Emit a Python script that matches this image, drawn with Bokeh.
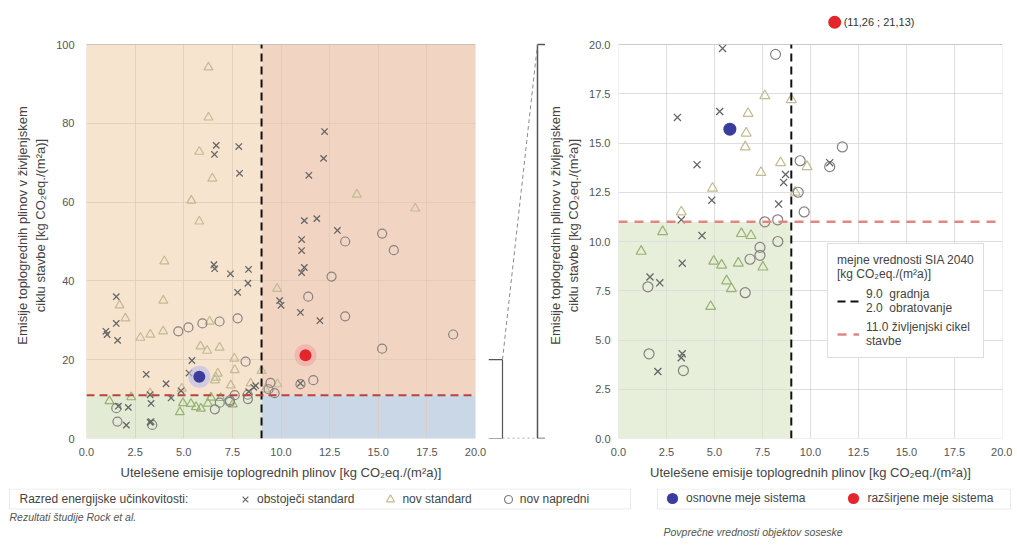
import numpy as np
from bokeh.plotting import figure
from bokeh.layouts import row, column
from bokeh.models import (BoxAnnotation, Span, Legend, LegendItem, FixedTicker,
                          NumeralTickFormatter, Range1d, ColumnDataSource)
from bokeh.core.properties import value
from bokeh.embed import file_html
from bokeh.resources import INLINE

FONT = "Liberation Sans"

# ---------------- data (Rock et al.) ----------------
# obstoječi standard (x)
existing_x = [6.67, 6.58, 7.83, 7.87, 12.24, 12.19, 11.43, 11.20, 11.84, 12.90, 11.06, 11.06, 11.20, 11.06,
              9.93, 10.00, 11.00, 12.00, 6.59, 6.55, 7.40, 8.33, 8.30, 7.77, 1.53, 1.53, 1.06, 1.00, 1.60,
              5.42, 3.07, 5.27, 4.09, 4.86, 3.27, 4.35, 11.00, 8.70, 8.60, 8.34, 3.32, 1.64, 2.15, 3.32, 3.27, 2.05]
existing_y = [74.4, 72.1, 74.1, 67.3, 77.9, 71.1, 66.8, 55.3, 55.8, 52.8, 50.5, 47.7, 43.4, 42.1,
              35.0, 33.8, 32.0, 29.9, 43.1, 44.1, 41.8, 42.9, 39.4, 37.1, 36.0, 29.2, 26.4, 27.2, 24.9,
              19.8, 16.3, 16.6, 13.9, 12.1, 11.1, 10.3, 14.0, 13.4, 13.0, 11.9, 8.9, 8.2, 7.9, 4.3, 4.1, 3.4]
# nov standard (triangle)
standard_x = [6.27, 6.27, 5.80, 6.47, 5.39, 5.80, 13.90, 16.90, 9.80, 4.00, 3.95, 1.70, 2.00, 2.77, 3.28,
              3.94, 5.86, 6.20, 6.84, 6.33, 7.60,
              6.75, 6.65, 6.60, 7.62, 9.00, 7.42, 4.90, 3.27, 2.30, 6.40, 6.90, 8.44, 9.82, 9.20, 1.18,
              4.96, 5.37, 6.24, 5.63, 5.88, 4.80, 7.52]
standard_y = [94.2, 81.5, 72.8, 66.0, 60.4, 55.1, 61.9, 58.4, 38.0, 45.0, 35.0, 33.8, 30.5, 25.6, 26.4,
              27.2, 23.4, 22.3, 23.1, 29.7, 20.3,
              16.5, 15.5, 14.8, 17.4, 17.2, 13.5, 12.7, 11.5, 10.5, 10.4, 10.3, 14.0, 13.8, 12.5, 9.5,
              9.0, 8.8, 8.9, 8.0, 7.6, 6.7, 8.7]
# nov napredni (circle)
advanced_x = [13.30, 15.20, 15.80, 12.60, 11.40, 13.30, 18.85, 15.20, 4.72, 5.24, 5.96, 6.84, 7.77,
              8.18, 11.66, 11.00, 9.46, 9.36, 9.67, 8.29, 7.62, 8.30, 1.53, 6.85, 7.37, 7.37, 6.60, 1.59, 3.38]
advanced_y = [50.0, 52.0, 47.8, 41.1, 36.0, 31.0, 26.4, 22.8, 27.2, 28.2, 29.2, 29.7, 30.5,
              19.5, 14.8, 13.8, 14.1, 12.5, 11.5, 11.1, 11.0, 10.0, 7.7, 9.1, 9.3, 9.7, 7.4, 4.3, 3.45]

# povprečne vrednosti objektov soseske
basic_x, basic_y = [5.80], [15.7]          # osnovne meje sistema
extended_x, extended_y = [11.26], [21.13]  # razširjene meje sistema
extended_label = ["(11,26 ; 21,13)"]

# mejne vrednosti SIA 2040
LIM_EMB = 9.0    # gradnja
LIM_OP = 2.0     # obratovanje
LIM_LC = 11.0    # življenjski cikel stavbe

X_MAX = 20.0
Y_MAX_LEFT = 100.0
ZOOM_MAX = 20.0

x_ticks = [0, 2.5, 5, 7.5, 10, 12.5, 15, 17.5, 20]
y_ticks_left = [0, 20, 40, 60, 80, 100]
y_ticks_right = [0, 2.5, 5, 7.5, 10, 12.5, 15, 17.5, 20]

XLAB = "Utelešene emisije toplogrednih plinov [kg CO\u2082eq./(m\u00b2a)]"
YLAB = "Emisije toplogrednih plinov v življenjskem\nciklu stavbe [kg CO\u2082eq./(m\u00b2a)]"

C_CROSS = "#666666"
C_TRI = "#c2bb93"
C_TRI_G = "#98b271"
C_CIRC = "#878280"
C_BLUE = "#3a3d9c"
C_RED = "#e3262b"

# frame geometry (all plots in the row share borders)
FRAME_H = 394          # pixels for the nominal y extent
EXTRA = 32             # extra headroom above the nominal extent (for the outlier label)
BORDER_TOP = 12
BORDER_BOTTOM = 50
ROW_H = BORDER_TOP + FRAME_H + EXTRA + BORDER_BOTTOM
HEAD = (FRAME_H + EXTRA) / FRAME_H
Y_TOP_L = Y_MAX_LEFT * HEAD
Y_TOP_R = ZOOM_MAX * HEAD


def tri_colors(xs, ys):
    return [C_TRI_G if (x < LIM_EMB and y < LIM_LC) else C_TRI for x, y in zip(xs, ys)]


def style_axes(p, ylab_standoff=12):
    for ax in p.axis:
        ax.axis_line_color = None
        ax.major_tick_line_color = None
        ax.minor_tick_line_color = None
        ax.major_tick_out = 0
        ax.major_tick_in = 0
        ax.minor_tick_out = 0
        ax.major_label_text_font = FONT
        ax.major_label_text_font_size = "11px"
        ax.major_label_text_color = "#555555"
        ax.axis_label_text_font = FONT
        ax.axis_label_text_font_size = "13px"
        ax.axis_label_text_font_style = "normal"
        ax.axis_label_text_color = "#444444"
    p.xaxis.major_label_standoff = 9
    p.xaxis.axis_label_standoff = 6
    p.yaxis.major_label_standoff = ylab_standoff
    p.yaxis.axis_label_standoff = 5
    p.xaxis.ticker = FixedTicker(ticks=x_ticks)
    p.xaxis.formatter = NumeralTickFormatter(format="0.0")
    p.xaxis.axis_label = XLAB
    p.yaxis.axis_label = YLAB


def add_points(p, mask_max=None, size=8):
    ex, ey = np.array(existing_x), np.array(existing_y)
    sx, sy = np.array(standard_x), np.array(standard_y)
    ax_, ay = np.array(advanced_x), np.array(advanced_y)
    if mask_max is not None:
        m = ey <= mask_max; ex, ey = ex[m], ey[m]
        m = sy <= mask_max; sx, sy = sx[m], sy[m]
        m = ay <= mask_max; ax_, ay = ax_[m], ay[m]
    p.scatter(sx, sy, marker="triangle", size=size, fill_color=None,
              line_color=tri_colors(sx, sy), line_width=1.2)
    p.scatter(ax_, ay, marker="circle", size=size, fill_color=None,
              line_color=C_CIRC, line_width=1.2)
    p.scatter(ex, ey, marker="x", size=size, line_color=C_CROSS, line_width=1.3)


def set_grid(p, y_ticks, y_max, color, alpha=1.0):
    p.grid.grid_line_color = color
    p.grid.grid_line_alpha = alpha
    p.xgrid.ticker = FixedTicker(ticks=x_ticks)
    p.ygrid.ticker = FixedTicker(ticks=y_ticks)
    try:
        p.xgrid.cross_bounds = (0, y_max)
    except Exception:
        pass


# ---------------- left figure ----------------
pL = figure(width=488, height=ROW_H, x_range=Range1d(0, X_MAX), y_range=Range1d(0, Y_TOP_L),
            output_backend="svg", toolbar_location=None,
            min_border_left=86, min_border_right=13, min_border_top=BORDER_TOP,
            min_border_bottom=BORDER_BOTTOM)
pL.outline_line_color = None
for (l, r, b, t, c) in [(0, LIM_EMB, LIM_LC, Y_MAX_LEFT, "#f6e4cf"),
                        (LIM_EMB, X_MAX, LIM_LC, Y_MAX_LEFT, "#f1d5c2"),
                        (0, LIM_EMB, 0, LIM_LC, "#e3ebd5"),
                        (LIM_EMB, X_MAX, 0, LIM_LC, "#c9d7e6")]:
    pL.add_layout(BoxAnnotation(left=l, right=r, bottom=b, top=t, fill_color=c, fill_alpha=1,
                                line_color=None, level="image"))
pL.add_layout(BoxAnnotation(left=0, right=X_MAX, bottom=0, top=Y_MAX_LEFT, fill_color=None,
                            line_color="#9a9a9a", line_width=1, level="overlay"))
style_axes(pL, ylab_standoff=12)
pL.yaxis.ticker = FixedTicker(ticks=y_ticks_left)
pL.yaxis.bounds = (0, Y_MAX_LEFT)
set_grid(pL, y_ticks_left, Y_MAX_LEFT, "#dcc9b6", 0.7)

add_points(pL, size=9)
pL.segment(x0=[LIM_EMB], y0=[0], x1=[LIM_EMB], y1=[Y_MAX_LEFT], line_color="#111111",
           line_width=2, line_dash="8 5")
pL.add_layout(Span(location=LIM_LC, dimension="width", line_color="#b9443f",
                   line_width=2, line_dash="8 5"))
# averages with halo
pL.scatter(basic_x, basic_y, size=22, fill_color="#b9bbe6", fill_alpha=0.6, line_color=None)
pL.scatter(basic_x, basic_y, size=12, fill_color=C_BLUE, line_color=None)
pL.scatter(extended_x, extended_y, size=22, fill_color="#f4a3a0", fill_alpha=0.6, line_color=None)
pL.scatter(extended_x, extended_y, size=12, fill_color=C_RED, line_color=None)

# ---------------- middle connector figure ----------------
MID_W = 57
pM = figure(width=MID_W, height=ROW_H, x_range=Range1d(0, MID_W), y_range=Range1d(0, Y_TOP_L),
            output_backend="svg", toolbar_location=None, x_axis_type=None, y_axis_type=None,
            min_border_left=0, min_border_right=0, min_border_top=BORDER_TOP,
            min_border_bottom=BORDER_BOTTOM)
pM.outline_line_color = None
bx, rx = 14, 49
# bracket around the zoomed part of the left chart
pM.segment(x0=[0, bx, 0], y0=[ZOOM_MAX, ZOOM_MAX, 0], x1=[bx, bx, bx], y1=[ZOOM_MAX, 0, 0],
           line_color="#555555", line_width=1.2)
# bracket at the right chart
pM.segment(x0=[rx, rx, rx], y0=[Y_MAX_LEFT, Y_MAX_LEFT, 0], x1=[MID_W, rx, MID_W], y1=[Y_MAX_LEFT, 0, 0],
           line_color="#555555", line_width=1.5)
pM.segment(x0=[bx], y0=[ZOOM_MAX], x1=[rx], y1=[Y_MAX_LEFT], line_color="#8a8a8a",
           line_width=1, line_dash="4 3")
pM.segment(x0=[bx], y0=[0], x1=[rx], y1=[0], line_color="#9a9a9a",
           line_width=1.5, line_dash="2 3")

# ---------------- right figure (zoom 0..20) ----------------
pR = figure(width=467, height=ROW_H, x_range=Range1d(0, X_MAX), y_range=Range1d(0, Y_TOP_R),
            output_backend="svg", toolbar_location=None,
            min_border_left=68, min_border_right=10, min_border_top=BORDER_TOP,
            min_border_bottom=BORDER_BOTTOM)
pR.outline_line_color = None
style_axes(pR, ylab_standoff=8)
pR.yaxis.ticker = FixedTicker(ticks=y_ticks_right)
pR.yaxis.formatter = NumeralTickFormatter(format="0.0")
pR.yaxis.bounds = (0, ZOOM_MAX)
set_grid(pR, y_ticks_right, ZOOM_MAX, "#dedede")
pR.add_layout(BoxAnnotation(left=0, right=LIM_EMB, bottom=0, top=LIM_LC, fill_color="#e7eeda",
                            fill_alpha=1, line_color=None, level="image"))
pR.add_layout(BoxAnnotation(left=0, right=X_MAX, bottom=0, top=ZOOM_MAX, fill_color=None,
                            line_color="#9a9a9a", line_width=1, level="overlay"))
add_points(pR, mask_max=ZOOM_MAX, size=10)
r_emb = pR.segment(x0=[LIM_EMB], y0=[0], x1=[LIM_EMB], y1=[ZOOM_MAX], line_color="#111111",
                   line_width=2, line_dash="8 5")
r_lc = pR.segment(x0=[0], y0=[LIM_LC], x1=[X_MAX], y1=[LIM_LC], line_color="#e48585",
                  line_width=2.5, line_dash="9 7")
pR.scatter(basic_x, basic_y, size=13, fill_color=C_BLUE, line_color=None)
pR.scatter(extended_x, extended_y, size=13, fill_color=C_RED, line_color=None)
pR.text(extended_x, extended_y, text=extended_label, x_offset=9, text_baseline="middle",
        text_font=value(FONT), text_font_size="11px", text_color="#333333")

legR = Legend(items=[LegendItem(label=f"{LIM_EMB:.1f}  gradnja\n{LIM_OP:.1f}  obratovanje", renderers=[r_emb]),
                     LegendItem(label=f"{LIM_LC:.1f} življenjski cikel\nstavbe", renderers=[r_lc])],
              location=(209, 80), title="mejne vrednosti SIA 2040\n[kg CO\u2082eq./(m\u00b2a)]",
              margin=0, padding=9, spacing=5, glyph_width=22, label_standoff=7,
              border_line_color="#bbbbbb", background_fill_color="white", background_fill_alpha=1,
              label_text_font=FONT, label_text_font_size="12px", label_text_color="#444444",
              title_text_font=FONT, title_text_font_size="12px", title_text_font_style="normal",
              title_text_color="#444444", title_standoff=6)
pR.add_layout(legR)

# ---------------- bottom legend strip ----------------
BW, BH = 1012, 52
pB = figure(width=BW, height=BH, x_range=Range1d(0, BW), y_range=Range1d(BH, 0),
            output_backend="svg", toolbar_location=None, x_axis_type=None, y_axis_type=None,
            min_border_left=0, min_border_right=0, min_border_top=0, min_border_bottom=0)
pB.outline_line_color = None
pB.add_layout(BoxAnnotation(left=9, right=630, top=0.5, bottom=20.5, fill_color=None,
                            line_color="#bbbbbb", line_width=1))
pB.add_layout(BoxAnnotation(left=657, right=1010, top=0.5, bottom=20.5, fill_color=None,
                            line_color="#bbbbbb", line_width=1))
pB.text([19], [10.5], text=["Razred energijske učinkovitosti:"], text_baseline="middle",
        text_font=value(FONT), text_font_size="12px", text_color="#444444")
# legend-only renderers (single point outside the visible strip)
off = dict(x=[-100], y=[-100])
rb_x = pB.scatter("x", "y", source=ColumnDataSource(off), marker="x", size=8,
                  line_color=C_CROSS, line_width=1.2)
rb_t = pB.scatter("x", "y", source=ColumnDataSource(off), marker="triangle", size=8,
                  fill_color=None, line_color=C_TRI, line_width=1.2)
rb_c = pB.scatter("x", "y", source=ColumnDataSource(off), marker="circle", size=8,
                  fill_color=None, line_color=C_CIRC, line_width=1.2)
rb_b = pB.scatter("x", "y", source=ColumnDataSource(off), marker="circle", size=12,
                  fill_color=C_BLUE, line_color=None)
rb_r = pB.scatter("x", "y", source=ColumnDataSource(off), marker="circle", size=12,
                  fill_color=C_RED, line_color=None)

leg_common = dict(orientation="horizontal", margin=0, padding=0, label_height=12,
                  border_line_color=None, background_fill_alpha=0, label_text_font=FONT,
                  label_text_font_size="12px", label_text_color="#444444")
legB1 = Legend(items=[LegendItem(label="obstoječi standard", renderers=[rb_x]),
                      LegendItem(label="nov standard", renderers=[rb_t]),
                      LegendItem(label="nov napredni", renderers=[rb_c])],
               location=(235, 31.5), spacing=26, glyph_width=20, glyph_height=20,
               label_standoff=2, **leg_common)
legB2 = Legend(items=[LegendItem(label="osnovne meje sistema", renderers=[rb_b]),
                      LegendItem(label="razširjene meje sistema", renderers=[rb_r])],
               location=(658, 28.5), spacing=34, glyph_width=28, glyph_height=28,
               label_standoff=0, **leg_common)
pB.add_layout(legB1)
pB.add_layout(legB2)
pB.text([9], [28], text=["Rezultati študije Rock et al."], text_baseline="middle",
        text_font=value(FONT), text_font_size="10.5px", text_font_style="italic", text_color="#555555")
pB.text([663], [43], text=["Povprečne vrednosti objektov soseske"], text_baseline="middle",
        text_font=value(FONT), text_font_size="10.5px", text_font_style="italic", text_color="#555555")

layout = column(row(pL, pM, pR), pB)
open("out.html", "w").write(file_html(layout, INLINE))
